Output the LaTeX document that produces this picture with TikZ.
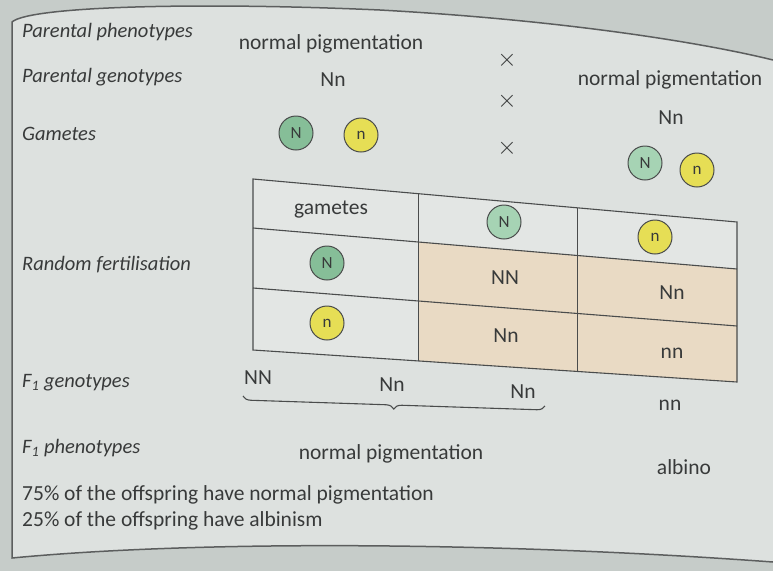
\documentclass[tikz,border=0pt]{standalone}
\usepackage{fontspec}
\setmainfont{Carlito}
\usetikzlibrary{calc,decorations.pathreplacing}
\definecolor{outerbg}{HTML}{C6CCC9}
\definecolor{pagebg}{HTML}{DDE1DF}
\definecolor{tablebg}{HTML}{E3E6E4}
\definecolor{beige}{HTML}{E9DAC4}
\definecolor{ink}{HTML}{383A3A}
\definecolor{linecol}{HTML}{4A4C4C}
\definecolor{greenN}{HTML}{86BE98}
\definecolor{greenL}{HTML}{A6D3B4}
\definecolor{yellowN}{HTML}{E6DE55}
\begin{document}
\begin{tikzpicture}[x=1pt,y=-1pt,
  lbl/.style={anchor=west, text=ink, inner sep=0pt, font=\fontsize{20.5}{20.5}\selectfont\itshape},
  txt/.style={text=ink, inner sep=0pt, font=\fontsize{21.5}{21.5}\selectfont},
  crs/.style={text=ink, inner sep=0pt, font=\fontsize{34}{34}\selectfont},
  gam/.style={circle, draw=linecol, line width=1pt, minimum size=34pt, inner sep=0pt, text=ink, font=\fontsize{17}{17}\selectfont},
  gN/.style={gam, fill=greenN},
  gNl/.style={gam, fill=greenL},
  gn/.style={gam, fill=yellowN},
  grid/.style={draw=linecol, line width=1.1pt},
  framestyle/.style={draw=linecol!90, line width=1.5pt}]
\useasboundingbox (0,0) rectangle (773,571);
\fill[outerbg] (0,0) rectangle (773,571);
% page
\fill[pagebg] (12,22) .. controls (30,6) and (200,2) .. (380,10) .. controls (560,20) and (700,42) .. (773,60) -- (773,562) .. controls (500,542) and (200,540) .. (12,558) -- cycle;
\draw[framestyle] (773,60) .. controls (700,42) and (560,20) .. (380,10) .. controls (200,2) and (30,6) .. (12,22) -- (12,558) .. controls (200,540) and (500,542) .. (773,562);

% table corners
\coordinate (TL) at (253,179);
\coordinate (TR) at (737,222);
\coordinate (AL) at (253,228);
\coordinate (AR) at (737,269);
\coordinate (BL) at (253,288);
\coordinate (BR) at (737,326);
\coordinate (CL) at (253,350);
\coordinate (CR) at (737,382);
\foreach \r in {T,A,B,C}{
  \coordinate (\r1) at ($(\r L)!0.341!(\r R)$);
  \coordinate (\r2) at ($(\r L)!0.671!(\r R)$);
}
\fill[tablebg] (TL) -- (TR) -- (CR) -- (CL) -- cycle;
\fill[beige] (A1) -- (AR) -- (CR) -- (C1) -- cycle;
\draw[grid] (TL) -- (TR) -- (CR) -- (CL) -- cycle;
\draw[grid] (AL) -- (AR);
\draw[grid] (BL) -- (BR);
\draw[grid] (T1) -- (C1);
\draw[grid] (T2) -- (C2);

% left labels
\node[lbl] (lpp) at (22,32) {Parental phenotypes};
\node[lbl] (lpg) at (22,77) {Parental genotypes};
\node[lbl] (lg) at (22,134) {Gametes};
\node[lbl] (lrf) at (22,265) {Random fertilisation};
\node[lbl] (lfg) at (22,383) {F\textsubscript{1} genotypes};
\node[lbl] (lfp) at (22,448) {F\textsubscript{1} phenotypes};

% parents
\node[txt] (p1) at (331,44) {normal pigmentation};
\node[txt] (p2) at (670,80) {normal pigmentation};
\node[crs] (x1) at (507,60) {$\times$};
\node[crs] (x2) at (507,101) {$\times$};
\node[crs] (x3) at (507,148) {$\times$};
\node[txt] (g1) at (333,80) {Nn};
\node[txt] (g2) at (671,118) {Nn};
\node[gN] (c1) at (296,133) {N};
\node[gn] (c2) at (361,135) {n};
\node[gNl] (c3) at (645,163) {N};
\node[gn] (c4) at (697,170) {n};

% table contents
\node[txt] (hg) at (331,210) {gametes};
\node[gNl] (hN) at (504,222) {N};
\node[gn] (hn) at (655,237) {n};
\node[gN] (rN) at (327,263) {N};
\node[gn] (rn) at (327,323) {n};
\node[txt] (cNN) at (505,278) {NN};
\node[txt] (cNn1) at (672,293) {Nn};
\node[txt] (cNn2) at (506,336) {Nn};
\node[txt] (cnn) at (672,353) {nn};

% F1
\node[txt] (fNN) at (258,378) {NN};
\node[txt] (fNn1) at (392,385) {Nn};
\node[txt] (fNn2) at (523,392) {Nn};
\node[txt] (fnn) at (670,405) {nn};
\coordinate (bl) at (243,396);
\coordinate (br) at (545,406);
\draw[draw=linecol, line width=1.1pt, decorate, decoration={brace, mirror, amplitude=8pt}] (bl) -- (br);
\node[txt] (fp1) at (391,454) {normal pigmentation};
\node[txt] (fp2) at (684,467) {albino};
\node[txt, anchor=west] (s1) at (22,495) {75\% of the offspring have normal pigmentation};
\node[txt, anchor=west] (s2) at (22,521) {25\% of the offspring have albinism};
\end{tikzpicture}
\end{document}
